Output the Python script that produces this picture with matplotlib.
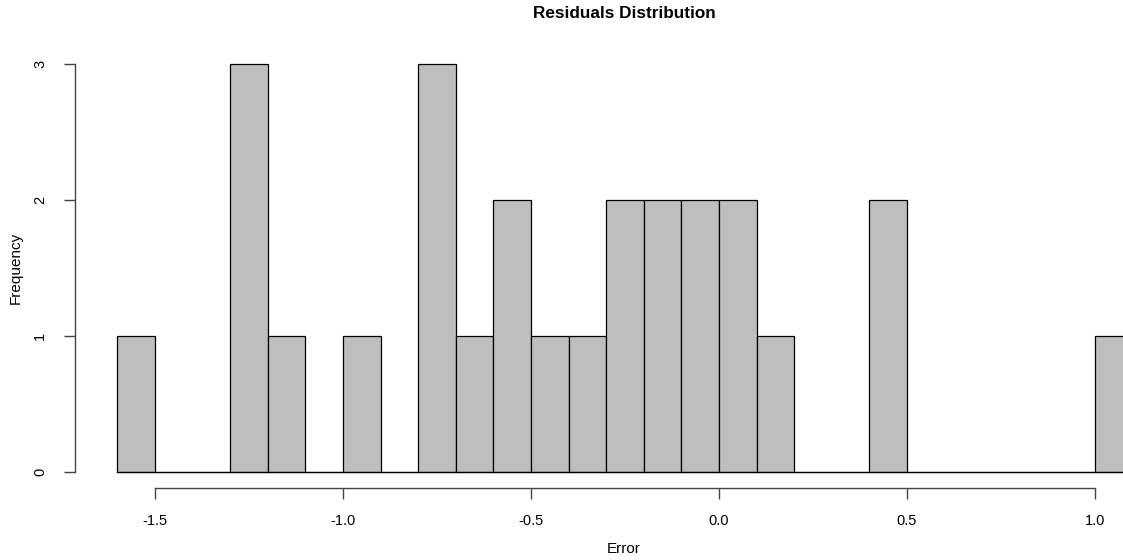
import numpy as np
import matplotlib.pyplot as plt

plt.rcParams['font.family'] = ['Liberation Sans', 'DejaVu Sans']

# histogram bins (width 0.1) and counts
bin_left = np.round(np.arange(-1.6, 1.05, 0.1), 2)
counts = [1, 0, 0, 3, 1, 0, 1, 0, 3, 1, 2, 1, 1, 2, 2, 2, 2, 1, 0, 0, 2, 0, 0, 0, 0, 0, 1]
xticks = [-1.5, -1.0, -0.5, 0.0, 0.5, 1.0]
yticks = [0, 1, 2, 3]

W, H = 1123, 560
fig = plt.figure(figsize=(W / 100, H / 100), dpi=100)
ax = fig.add_axes([75 / W, 72 / H, (W - 75) / W, 440 / H])

ax.bar(bin_left, counts, width=0.1, align='edge', color='#BEBEBE',
       edgecolor='black', linewidth=0.9)
# empty bins are drawn flat in R, so the baseline runs through
ax.plot([bin_left[0], bin_left[-1] + 0.1], [0, 0], color='black', linewidth=0.9)

ax.set_xlim(-1.5 - 80 / 376, 1.0 + 28 / 376)
ax.set_ylim(-0.12, 3.12)

ax.spines['top'].set_visible(False)
ax.spines['right'].set_visible(False)
ax.spines['left'].set_bounds(0, 3)
ax.spines['bottom'].set_bounds(-1.5, 1.0)
for s in ['left', 'bottom']:
    ax.spines[s].set_color('#444444')
    ax.spines[s].set_linewidth(1.0)

ax.set_xticks(xticks)
ax.set_xticklabels(['%.1f' % t for t in xticks])
ax.set_yticks(yticks)
ax.set_yticklabels([str(t) for t in yticks], rotation=90, va='center')
ax.tick_params(axis='both', direction='out', length=8, width=1.0,
               color='#444444', labelsize=10.5)
ax.tick_params(axis='x', pad=11)
ax.tick_params(axis='y', pad=12)

fig.text(624 / W, 1 - 14 / H, 'Residuals Distribution', ha='center',
         va='center', fontsize=12.3, fontweight='bold')
fig.text(624 / W, 1 - 549 / H, 'Error', ha='center', va='center', fontsize=11)
fig.text(16 / W, 1 - 268 / H, 'Frequency', ha='center', va='center',
         fontsize=11, rotation=90)

fig.savefig('out.png', dpi=100)
